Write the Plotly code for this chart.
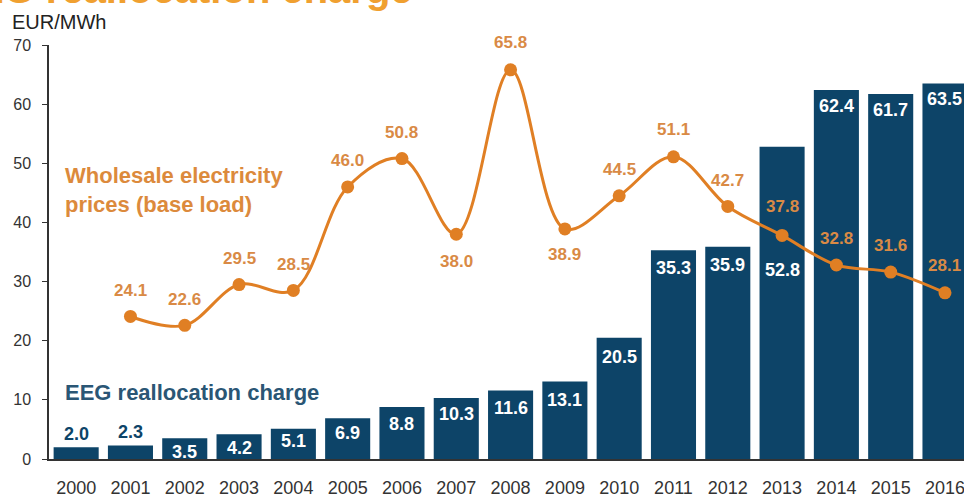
import plotly.graph_objects as go

years = [str(y) for y in range(2000, 2017)]
eeg_charge = [2.0, 2.3, 3.5, 4.2, 5.1, 6.9, 8.8, 10.3, 11.6, 13.1, 20.5, 35.3, 35.9, 52.8, 62.4, 61.7, 63.5]
price_years = [str(y) for y in range(2001, 2017)]
wholesale_price = [24.1, 22.6, 29.5, 28.5, 46.0, 50.8, 38.0, 65.8, 38.9, 44.5, 51.1, 42.7, 37.8, 32.8, 31.6, 28.1]
y_ticks = [0, 10, 20, 30, 40, 50, 60, 70]

NAVY = "#0d4468"
ORANGE = "#e07f24"
LABEL_OR = "#d98a45"
FONT = "Liberation Sans, Arial, sans-serif"

# label placement styles (pixel shifts)
bar_label_shift = [13, 13, -14, -14, -12, -15, -17, -16, -18, -18, -19, -18, -18, -123, -16, -16, -16]
price_label_shift = [26, 26, 26, 26, 26, 26, -27, 27, -26, 26, 27, 26, 29, 27, 27, 27]

fig = go.Figure()
fig.add_trace(go.Bar(x=years, y=eeg_charge, marker=dict(color=NAVY, line=dict(width=0)),
                     width=0.83, hoverinfo="skip"))
fig.add_trace(go.Scatter(x=price_years, y=wholesale_price, mode="lines+markers",
                         line=dict(color=ORANGE, width=3, shape="spline", smoothing=1.0),
                         marker=dict(color=ORANGE, size=13), hoverinfo="skip"))

ann = []
for i, v in enumerate(eeg_charge):
    s = bar_label_shift[i]
    ann.append(dict(x=years.index(years[i]), y=v, yshift=s, text=f"<b>{v:.1f}</b>", showarrow=False,
                    font=dict(family=FONT, size=18, color=NAVY if s > 0 else "white"),
                    xanchor="center", yanchor="middle"))
for i, v in enumerate(wholesale_price):
    ann.append(dict(x=years.index(price_years[i]), y=v, yshift=price_label_shift[i], text=f"<b>{v:.1f}</b>",
                    showarrow=False, font=dict(family=FONT, size=17, color=LABEL_OR),
                    xanchor="center", yanchor="middle"))

ann += [
    dict(xref="paper", yref="paper", x=0.015, y=0.65, text="<b>Wholesale electricity<br>prices (base load)</b>",
         showarrow=False, xanchor="left", yanchor="middle", align="left",
         font=dict(family=FONT, size=22, color="#dc8a3c")),
    dict(xref="paper", yref="paper", x=0.015, y=0.16, text="<b>EEG reallocation charge</b>",
         showarrow=False, xanchor="left", yanchor="middle", align="left",
         font=dict(family=FONT, size=22, color="#2a5675")),
    dict(xref="paper", yref="paper", x=-0.043, y=1.0, yshift=23, text="EUR/MWh",
         showarrow=False, xanchor="left", yanchor="middle",
         font=dict(family=FONT, size=20, color="#222222")),
    dict(xref="paper", yref="paper", x=0.4, y=1.0, yshift=56, text="<b>and EEG reallocation charge</b>",
         showarrow=False, xanchor="right", yanchor="middle",
         font=dict(family=FONT, size=40, color="#f0a030")),
]

fig.update_layout(
    width=964, height=497,
    margin=dict(l=49, r=0, t=45, b=38),
    plot_bgcolor="white", paper_bgcolor="white",
    showlegend=False, bargap=0.17,
    font=dict(family=FONT, color="#333333"),
    annotations=ann,
    xaxis=dict(type="category", range=[-0.5, 16.35], showgrid=False, showline=True,
               linecolor="#333333", linewidth=1.5, ticks="", tickfont=dict(size=18, color="#333333"),
               ticklabelstandoff=12),
    yaxis=dict(range=[0, 70], tickvals=y_ticks, showgrid=False, showline=True, linecolor="#333333",
               linewidth=1.5, ticks="outside", ticklen=5, tickcolor="#333333", zeroline=False,
               tickfont=dict(size=16, color="#333333"), ticklabelstandoff=8),
)

fig.write_html("out.html")
